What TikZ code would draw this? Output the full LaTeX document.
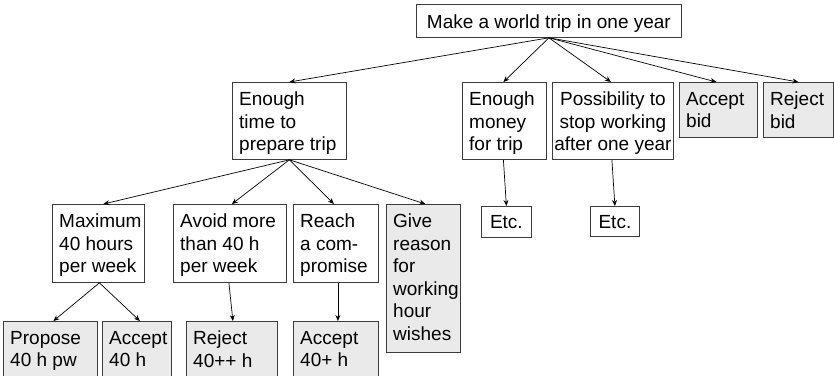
\documentclass[tikz,border=0pt]{standalone}
\usepackage{fontspec}
\setmainfont{Liberation Sans}
\usetikzlibrary{arrows.meta}
\definecolor{boxgray}{RGB}{234,234,234}
\definecolor{boxedge}{RGB}{60,60,60}
\hyphenpenalty=10000

% a box given by its top-left and bottom-right corners (y grows downwards)
\newcommand\placebox[6]{%
  \pgfmathsetmacro\pbW{#4-#2}%
  \pgfmathsetmacro\pbH{#5-#3}%
  \node[#6, anchor=north west, minimum width=\pbW pt, minimum height=\pbH pt] (#1) at (#2,#3) {};}
% left-aligned text inside a box
\newcommand\lefttext[2]{%
  \node[txt, anchor=north west] (#1-t) at ([xshift=7pt,yshift=-10pt]#1.north west) {#2};}
% centred text inside a box
\newcommand\midtext[3]{%
  \node[txt, align=center, anchor=north] (#1-t) at ([yshift=-#2pt]#1.north) {#3};}

\begin{document}
\begin{tikzpicture}[x=1pt,y=-1pt,
  box/.style={rectangle, draw=boxedge, line width=0.8pt, fill=white, inner sep=0pt},
  choice/.style={box, fill=boxgray},
  txt/.style={inner sep=0pt, align=left, font=\fontsize{19}{22.5}\selectfont},
  link/.style={draw=black, line width=0.7pt, -{Stealth[length=6pt,width=5pt]}}]
\useasboundingbox (0,0) rectangle (834,375);

% goal
\placebox{root}{416}{4}{681}{37}{box}
\midtext{root}{10.5}{Make a world trip in one year}

% first level
\placebox{time}{232}{82}{346}{159}{box}
\lefttext{time}{Enough\\time to\\prepare trip}
\placebox{money}{462}{82}{546}{159}{box}
\lefttext{money}{Enough\\money\\for trip}
\placebox{poss}{552}{82}{673}{159}{box}
\midtext{poss}{10}{Possibility to\\stop working\\after one year}
\placebox{accbid}{679}{82}{757}{137}{choice}
\lefttext{accbid}{Accept\\bid}
\placebox{rejbid}{763}{82}{833}{137}{choice}
\lefttext{rejbid}{Reject\\bid}

% second level
\placebox{max}{52}{204}{144}{282}{box}
\lefttext{max}{Maximum\\40 hours\\per week}
\placebox{avoid}{173}{204}{286}{282}{box}
\lefttext{avoid}{Avoid more\\than 40 h\\per week}
\placebox{reach}{293}{204}{378}{282}{box}
\lefttext{reach}{Reach\\a com-\\promise}
\placebox{give}{386}{204}{460}{352}{choice}
\lefttext{give}{Give\\reason\\for\\working\\hour\\wishes}
\placebox{etca}{481}{206}{531}{237}{box}
\midtext{etca}{9}{Etc.}
\placebox{etcb}{590}{206}{639}{236}{box}
\midtext{etcb}{9}{Etc.}

% third level
\placebox{prop}{3}{321}{97}{378}{choice}
\lefttext{prop}{Propose\\40 h pw}
\placebox{acc40}{102}{321}{171}{378}{choice}
\lefttext{acc40}{Accept\\40 h}
\placebox{rej40}{186}{321}{277}{378}{choice}
\lefttext{rej40}{Reject\\40++ h}
\placebox{acc40p}{293}{321}{378}{378}{choice}
\lefttext{acc40p}{Accept\\40+ h}

% connectors
\draw[link] (root.south) -- (time.north);
\draw[link] (root.south) -- ([xshift=-1pt]money.north);
\draw[link] (root.south) -- ([xshift=-2pt]poss.north);
\draw[link] (root.south) -- ([xshift=-2pt]accbid.north);
\draw[link] (root.south) -- (rejbid.north);

\draw[link] (time.south) -- ([xshift=5pt]max.north);
\draw[link] (time.south) -- ([xshift=2pt]avoid.north);
\draw[link] (time.south) -- ([xshift=-2pt]reach.north);
\draw[link] (time.south) -- ([xshift=2pt]give.north);

\draw[link] ([xshift=-1pt]money.south) -- (etca.north);
\draw[link] ([xshift=-1pt]poss.south) -- (etcb.north);

\draw[link] ([xshift=1pt]max.south) -- ([xshift=3pt]prop.north);
\draw[link] ([xshift=1pt]max.south) -- ([xshift=3pt]acc40.north);
\draw[link] ([xshift=-1pt]avoid.south) -- ([xshift=1pt]rej40.north);
\draw[link] ([xshift=2pt]reach.south) -- ([xshift=2pt]acc40p.north);
\end{tikzpicture}
\end{document}
